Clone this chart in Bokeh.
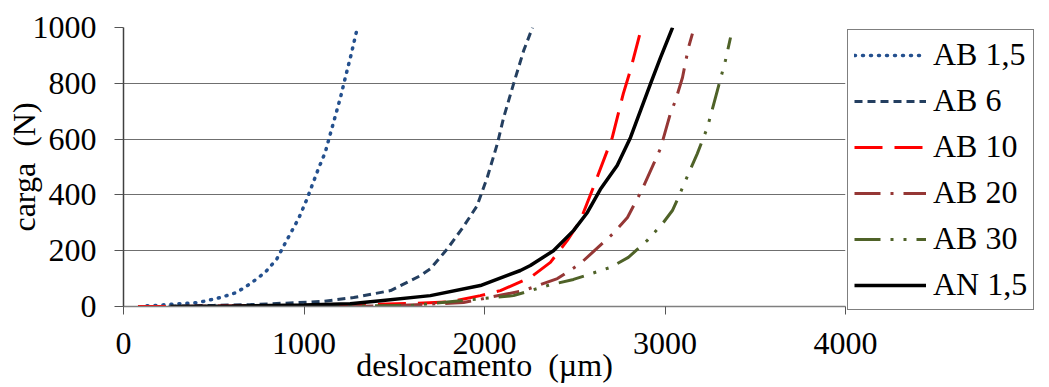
from bokeh.plotting import figure
from bokeh.models import Legend, LegendItem, Range1d
from bokeh.embed import file_html
from bokeh.resources import INLINE

# ---- data ----
ab15_x = [130, 181, 293, 414, 537, 626, 703, 786, 850, 904, 970, 1013, 1080, 1118, 1146, 1174, 1202, 1229, 1260, 1296]
ab15_y = [3, 4, 9, 14, 32, 50, 82, 123, 171, 237, 315, 380, 494, 553, 619, 684, 749, 821, 900, 1000]

ab6_x = [250, 500, 704, 900, 1100, 1275, 1480, 1646, 1700, 1792, 1881, 1958, 2016, 2071, 2106, 2161, 2217, 2266]
ab6_y = [1, 4, 7, 12, 18, 32, 57, 111, 135, 205, 284, 360, 464, 583, 677, 798, 917, 1000]

ab10_x = [80, 240, 600, 1000, 1300, 1607, 1811, 1977, 2088, 2254, 2365, 2459, 2531, 2603, 2708, 2769, 2808, 2864]
ab10_y = [0, 0, 2, 4, 7, 11, 17, 39, 57, 104, 158, 237, 308, 427, 606, 763, 846, 985]

ab20_x = [1240, 1500, 1884, 2216, 2404, 2531, 2714, 2792, 2870, 2975, 3030, 3058, 3097, 3130, 3152]
ab20_y = [0, 3, 14, 57, 100, 154, 262, 319, 415, 566, 692, 738, 821, 928, 978]

ab30_x = [1050, 1607, 2161, 2349, 2493, 2697, 2797, 2902, 2991, 3041, 3074, 3102, 3179, 3235, 3290, 3335, 3363]
ab30_y = [0, 4, 39, 75, 97, 140, 176, 237, 301, 344, 391, 434, 548, 642, 774, 882, 964]

an15_x = [260, 600, 1000, 1256, 1424, 1700, 1977, 2199, 2254, 2382, 2493, 2570, 2642, 2735, 2809, 2920, 2975, 3042]
an15_y = [0, 2, 5, 10, 21, 39, 75, 129, 147, 200, 272, 337, 420, 505, 606, 799, 892, 1000]

labels = ["AB 1,5", "AB 6", "AB 10", "AB 20", "AB 30", "AN 1,5"]
x_ticks = [0, 1000, 2000, 3000, 4000]
y_ticks = [0, 200, 400, 600, 800, 1000]

FONT = "'Liberation Serif', 'Times New Roman', serif"
FS = "32px"

p = figure(frame_width=722, frame_height=279,
           x_range=Range1d(0, 4000), y_range=Range1d(0, 1000),
           output_backend="svg", toolbar_location=None,
           min_border_left=123, min_border_right=0,
           min_border_top=27, min_border_bottom=81)
p.outline_line_color = None
p.background_fill_color = "white"
p.border_fill_color = "white"
p.xgrid.visible = False
p.ygrid.grid_line_color = "#6f6f6f"
p.ygrid.grid_line_width = 1

p.xaxis.ticker = x_ticks
p.yaxis.ticker = y_ticks
for ax in (p.xaxis, p.yaxis):
    ax.major_label_text_font = FONT
    ax.major_label_text_font_size = FS
    ax.major_label_text_color = "black"
    ax.axis_label_text_font = FONT
    ax.axis_label_text_font_size = FS
    ax.axis_label_text_font_style = "normal"
    ax.axis_label_text_color = "black"
    ax.minor_tick_line_color = None
    ax.major_tick_in = 0
    ax.major_tick_line_color = "#555555"
    ax.axis_line_width = 1.5

p.xaxis.axis_line_color = "#7f7f7f"
p.yaxis.axis_line_color = "#404040"
p.xaxis.major_tick_out = 8
p.yaxis.major_tick_out = 9
p.xaxis.major_label_standoff = 18
p.yaxis.major_label_standoff = 18
p.xaxis.axis_label = "deslocamento\u00a0 (\u00b5m)"
p.yaxis.axis_label = "carga\u00a0 (N)"
p.xaxis.axis_label_standoff = -10
p.yaxis.axis_label_standoff = -12

r1 = p.line(ab15_x, ab15_y, line_color="#24508E", line_width=3.5,
            line_dash="1 7", line_cap="round")
r2 = p.line(ab6_x, ab6_y, line_color="#243F60", line_width=3,
            line_dash="8 5")
r3 = p.line(ab10_x, ab10_y, line_color="#FF0000", line_width=3,
            line_dash="28 12")
r4 = p.line(ab20_x, ab20_y, line_color="#953735", line_width=3,
            line_dash="26 10 3 10")
r5 = p.line(ab30_x, ab30_y, line_color="#4F6228", line_width=3,
            line_dash="26 10 3 10 3 10")
r6 = p.line(an15_x, an15_y, line_color="#000000", line_width=3.5)

items = [LegendItem(label=l, renderers=[r]) for l, r in zip(labels, [r1, r2, r3, r4, r5, r6])]
legend = Legend(items=items, location="top_left",
                label_text_font=FONT, label_text_font_size=FS,
                label_text_color="black",
                glyph_width=72, glyph_height=26, label_height=26,
                spacing=9, padding=6, margin=2, label_standoff=7,
                border_line_color="#000000", border_line_width=1,
                background_fill_color="white", background_fill_alpha=1)
p.add_layout(legend, "right")

open("out.html", "w").write(file_html(p, INLINE))
